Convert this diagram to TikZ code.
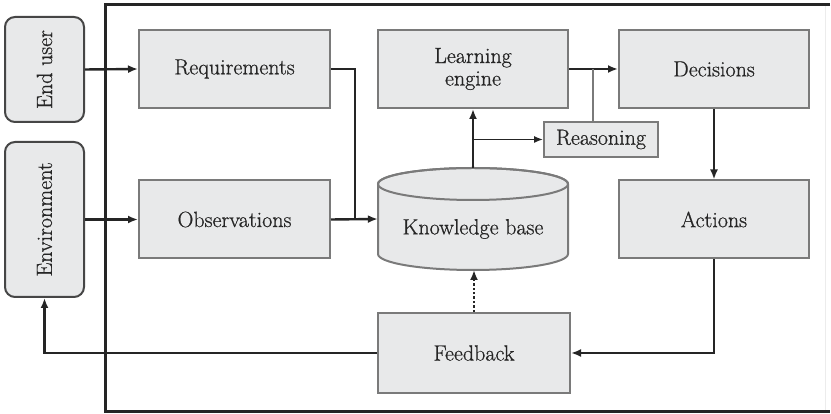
\documentclass[tikz,border=0pt]{standalone}
\usepackage{fontspec}
\newfontfamily\diagfont{Latin Modern Roman}[FakeBold=0.7]
\usetikzlibrary{arrows.meta}
\definecolor{boxfill}{HTML}{E8E9EA}
\definecolor{boxline}{HTML}{7A7A7A}
\definecolor{ink}{HTML}{252525}
\definecolor{faint}{HTML}{ECECEC}
\begin{document}
\begin{tikzpicture}[x=1pt,y=1pt,
  font=\diagfont\fontsize{22}{22.5}\selectfont,
  text=ink,
  blk/.style={draw=boxline, fill=boxfill, line width=2pt, inner sep=0pt,
    align=center, minimum width=191pt, minimum height=78pt},
  agent/.style={draw=ink!85, fill=boxfill, line width=2pt, rounded corners=10pt,
    inner sep=0pt, minimum width=79pt},
  flow/.style={draw=ink, line width=2.4pt, -{Latex[length=10pt,width=8pt]}},
  thinflow/.style={draw=ink, line width=1.3pt, -{Latex[length=9pt,width=7pt]}},
  link/.style={draw=boxline, line width=1.3pt},
  fbflow/.style={draw=ink, line width=2.4pt, dotted, -{Latex[length=10pt,width=8pt]}}]
\useasboundingbox (0,0) rectangle (831,414);

% system boundary
\draw[faint, line width=1pt] (825,409) -- (825,2);
\draw[ink, line width=3pt] (830,409) -- (105,409) -- (105,2) -- (830,2);

% external agents
\node[agent, minimum height=105pt] (user) at (44.5,344.5) {};
\node[rotate=90] (userlabel) at (user.center) {End user};
\node[agent, minimum height=155pt] (env) at (44.5,194.5) {};
\node[rotate=90] (envlabel) at (env.center) {Environment};

% processing blocks
\node[blk] (req) at (234.5,345) {Requirements};
\node[blk] (obs) at (234.5,194.5) {Observations};
\node[blk, minimum width=190pt] (learn) at (473,345) {Learning\\engine};
\node[blk, minimum width=190pt] (dec) at (714,345) {Decisions};
\node[blk, minimum width=190pt] (act) at (714,194.5) {Actions};
\node[blk, minimum width=114pt, minimum height=35pt] (reason) at (601,274.5) {Reasoning};
\node[blk, minimum width=192pt, minimum height=80pt] (fb) at (474,61) {Feedback};

% knowledge base drum
\node[inner sep=0pt, minimum width=190pt, minimum height=102pt] (kb) at (473,195) {};
\draw[boxline, fill=boxfill, line width=2pt]
  (378,230) -- (378,160) arc[start angle=180, end angle=360, x radius=95, y radius=16]
  -- (568,230) arc[start angle=0, end angle=180, x radius=95, y radius=16] -- cycle;
\draw[boxline, line width=2pt] (473,230) ellipse[x radius=95, y radius=16];
\node (kblabel) at (473,185) {Knowledge base};

% connectors
\draw[flow] (user.east) -- (req.west);
\draw[flow] (env.east) -- (obs.west);
\draw[flow] (obs.east) -- (kb.west);
\draw[ink, line width=2.4pt] (req.east) -| (355,195);
\draw[flow] (kb.north) -- (learn.south);
\coordinate (split) at (473,274.5);
\draw[thinflow] (split) -- (reason.west);
\draw[flow] (learn.east) -- (dec.west);
\coordinate (rtop) at (593,345);
\draw[link] (reason.north -| rtop) -- (rtop);
\draw[flow] (dec.south) -- (act.north);
\draw[flow] (act.south) |- (fb.east);
\draw[fbflow] (fb.north) -- (474,144);
\draw[flow] (fb.west) -| (env.south);
\end{tikzpicture}
\end{document}
